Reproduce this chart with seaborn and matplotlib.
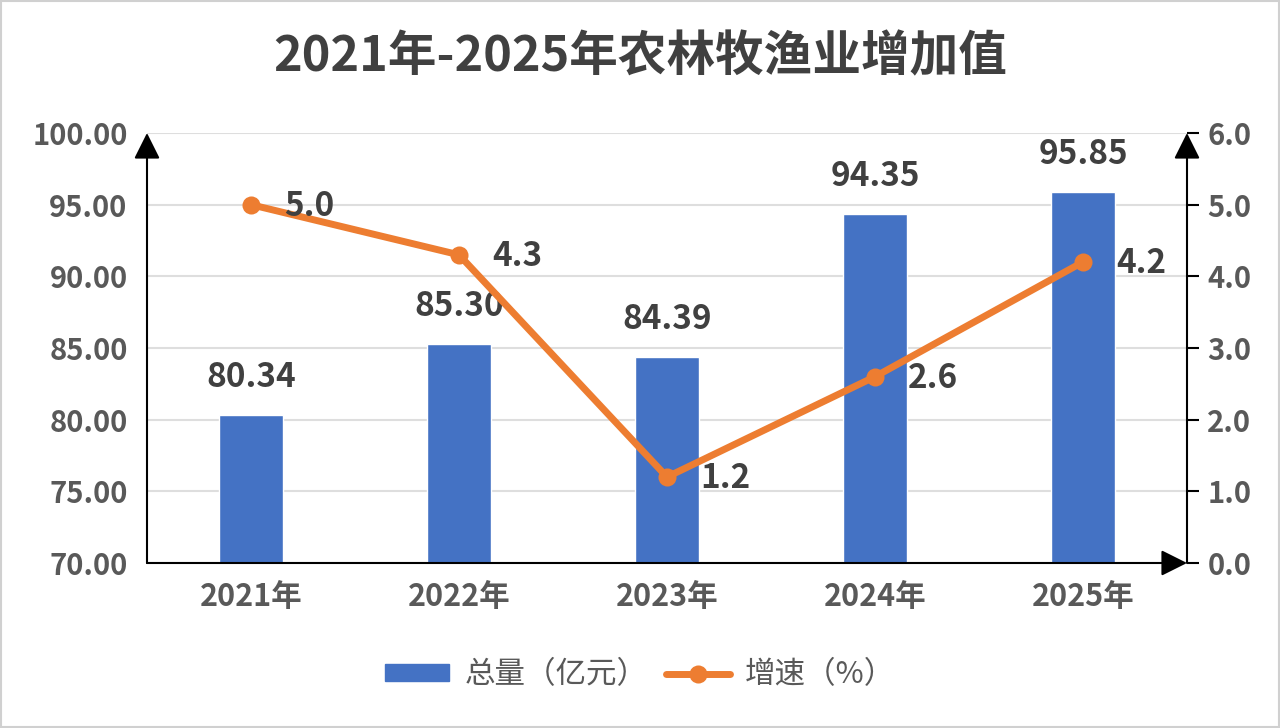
import numpy as np
import pandas as pd
import matplotlib.pyplot as plt
import seaborn as sns
from matplotlib.patches import Rectangle
from matplotlib.lines import Line2D
from matplotlib.ticker import FormatStrFormatter, MultipleLocator

# dados
anos = ["2021年", "2022年", "2023年", "2024年", "2025年"]
total = [80.34, 85.30, 84.39, 94.35, 95.85]
crescimento = [5.0, 4.3, 1.2, 2.6, 4.2]

titulo = "2021年-2025年农林牧渔业增加值"
nome_total = "总量（亿元）"
nome_cresc = "增速（%）"

azul = "#4472C4"
laranja = "#ED7D31"
cinza_txt = "#595959"
escuro = "#404040"

df = pd.DataFrame({"ano": anos, "total": total, "cresc": crescimento})
df["pos"] = np.arange(len(df))

sns.set_theme(style="whitegrid")
plt.rcParams["font.family"] = ["Noto Sans CJK SC", "DejaVu Sans"]

fig = plt.figure(figsize=(12.8, 7.28), dpi=100)
ax = fig.add_axes([147 / 1280, 1 - 563 / 728, 1040 / 1280, 430 / 728])
ax2 = ax.twinx()

# barras
sns.barplot(data=df, x="ano", y="total", color=azul, saturation=1, width=0.31, ax=ax, zorder=2)
ax.set_ylim(70, 100)
ax.set_xlim(-0.5, len(anos) - 0.5)
ax.yaxis.set_major_locator(MultipleLocator(5))
ax.yaxis.set_major_formatter(FormatStrFormatter("%.2f"))
ax.set_xlabel("")
ax.set_ylabel("")
ax.grid(axis="y", color="#dedede", lw=1.5)
ax.grid(axis="x", visible=False)
ax.tick_params(axis="y", length=0, pad=14, labelsize=21, labelcolor=cinza_txt)
ax.tick_params(axis="x", length=0, pad=13, labelsize=22, labelcolor=cinza_txt)
for lab in ax.get_xticklabels() + ax.get_yticklabels():
    lab.set_fontweight("bold")

for i, v in enumerate(total):
    ax.annotate(f"{v:.2f}", (i, v), xytext=(0, 27), textcoords="offset points",
                ha="center", va="center", fontsize=24, fontweight="bold", color=escuro)

# linha
sns.lineplot(data=df, x="pos", y="cresc", color=laranja, lw=5, marker="o", markersize=13,
             markeredgewidth=0, ax=ax2, zorder=3)
ax2.set_ylim(0, 6)
ax2.set_xlim(-0.5, len(anos) - 0.5)
ax2.yaxis.set_major_locator(MultipleLocator(1))
ax2.yaxis.set_major_formatter(FormatStrFormatter("%.1f"))
ax2.set_ylabel("")
ax2.set_xlabel("")
ax2.grid(False)
ax2.tick_params(axis="y", direction="out", length=8.6, width=1.5, color="black", pad=6,
                labelsize=21, labelcolor=cinza_txt, right=True)
for lab in ax2.get_yticklabels():
    lab.set_fontweight("bold")

for i, v in enumerate(crescimento):
    ax2.annotate(f"{v:.1f}", (i, v), xytext=(24, -1), textcoords="offset points",
                 ha="left", va="center", fontsize=24, fontweight="bold", color=escuro)

# eixos com setas
for a in (ax, ax2):
    for s in a.spines.values():
        s.set_visible(False)
seta = dict(arrowstyle="-|>,head_length=0.4,head_width=0.2", color="black", lw=1.5,
            mutation_scale=40, shrinkA=0, shrinkB=0)
ax2.annotate("", xy=(0, 1), xytext=(0, 0), xycoords="axes fraction", arrowprops=seta)
ax2.annotate("", xy=(1, 0), xytext=(0, 0), xycoords="axes fraction", arrowprops=seta)
ax2.annotate("", xy=(1, 1), xytext=(1, 0), xycoords="axes fraction", arrowprops=seta)

# titulo
fig.text(0.5, 1 - 57 / 728, titulo, ha="center", va="center", fontsize=35,
         fontweight="bold", color=escuro)

# legenda
h1 = Rectangle((0, 0), 1, 1, color=azul)
h2 = Line2D([], [], color=laranja, lw=5, marker="o", markersize=13, markeredgewidth=0)
leg = fig.legend([h1, h2], [nome_total, nome_cresc], loc="center", ncol=2,
                 bbox_to_anchor=(0.5, 1 - 675 / 728), frameon=False, fontsize=22,
                 handlelength=2.1, handleheight=0.45, columnspacing=0.6, handletextpad=0.5)
for t in leg.get_texts():
    t.set_color(cinza_txt)

# borda
fig.add_artist(Rectangle((0.001, 0.002), 0.998, 0.996, transform=fig.transFigure,
                         fill=False, edgecolor="#d0d0d0", lw=1.5))

fig.savefig("out.png", dpi=100, facecolor="white")
